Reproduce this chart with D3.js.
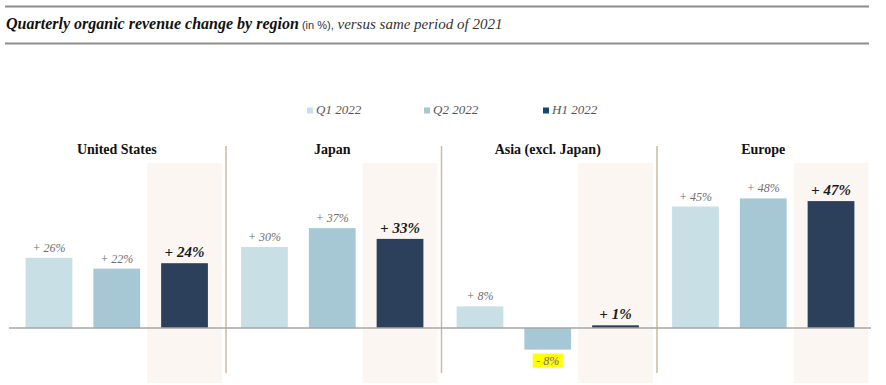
<!DOCTYPE html>
<html>
<head>
<meta charset="utf-8">
<script src="https://cdn.jsdelivr.net/npm/d3@7"></script>
<style>
    body { margin: 0; background: #fff; }
    svg { display: block; }
</style>
</head>
<body>
<div id="chart"></div>
<script>
// Data: regions and quarterly organic change (%)
const REGIONS = ["United States", "Japan", "Asia (excl. Japan)", "Europe"];
const SERIES = ["Q1 2022", "Q2 2022", "H1 2022"];
const Q1_VALUES = [26, 30, 8, 45];
const Q2_VALUES = [22, 37, -8, 48];
const H1_VALUES = [24, 33, 1, 47];

const COLORS = ["#c8dfe5", "#a5c8d4", "#2c3f5b"];
const LEGEND_COLORS = ["#c8dfe5", "#a5c8d4", "#0f4b6c"];

const width = 886, height = 385;
const SERIF = "Liberation Serif";

const svg = d3.select("#chart").append("svg")
    .attr("width", width)
    .attr("height", height);

// Title with rules above and below
svg.append("line").attr("x1", 5).attr("x2", 869).attr("y1", 6.5).attr("y2", 6.5)
    .attr("stroke", "#8c8c8c").attr("stroke-width", 2);
svg.append("line").attr("x1", 5).attr("x2", 869).attr("y1", 43.5).attr("y2", 43.5)
    .attr("stroke", "#8c8c8c").attr("stroke-width", 2);

const title = svg.append("text")
    .attr("x", 6).attr("y", 29)
    .attr("font-family", SERIF)
    .attr("fill", "#111");
title.append("tspan").attr("font-weight", "bold").attr("font-style", "italic")
    .attr("font-size", 16).text("Quarterly organic revenue change by region");
title.append("tspan").attr("font-family", "Liberation Sans")
    .attr("font-size", 11).attr("fill", "#333").text(" (in %),");
title.append("tspan").attr("font-style", "italic").attr("font-size", 15)
    .attr("fill", "#333").text(" versus same period of 2021");

// Scales
const x0 = d3.scaleBand().domain(REGIONS).range([9, 871]);
const x1 = d3.scaleBand().domain(SERIES).range([0, x0.bandwidth()])
    .paddingInner(0.31).paddingOuter(0.245);
const y = d3.scaleLinear().domain([-10, 50]).range([355, 193]);

const rows = REGIONS.map((r, i) => ({
    region: r,
    values: [Q1_VALUES[i], Q2_VALUES[i], H1_VALUES[i]]
}));

// Legend
const legendX = [307, 424, 543];
const legend = svg.append("g");
SERIES.forEach((s, i) => {
    legend.append("rect").attr("x", legendX[i]).attr("y", 107.5)
        .attr("width", 6).attr("height", 6).attr("fill", LEGEND_COLORS[i]);
    legend.append("text").attr("x", legendX[i] + 9).attr("y", 114)
        .attr("font-family", SERIF).attr("font-style", "italic")
        .attr("font-size", 13).attr("fill", "#555").text(s);
});

// Highlight background behind H1 bars
svg.selectAll(".hl").data(rows).enter().append("rect")
    .attr("class", "hl")
    .attr("x", d => x0(d.region) + x1("H1 2022") - 14)
    .attr("width", x1.bandwidth() + 28)
    .attr("y", 163)
    .attr("height", 220)
    .attr("fill", "#fbf6f2");

// Separators between regions
svg.selectAll(".sep").data(REGIONS.slice(1)).enter().append("line")
    .attr("class", "sep")
    .attr("x1", d => x0(d) + 1.5).attr("x2", d => x0(d) + 1.5)
    .attr("y1", 146).attr("y2", 373)
    .attr("stroke", "#cdbb9c").attr("stroke-width", 1.5);

// Region titles
svg.selectAll(".rt").data(REGIONS).enter().append("text")
    .attr("class", "rt")
    .attr("x", d => x0(d) + x0.bandwidth() / 2)
    .attr("y", 154)
    .attr("text-anchor", "middle")
    .attr("font-family", SERIF).attr("font-weight", "bold")
    .attr("font-size", 14).attr("fill", "#111")
    .text(d => d);

// Bars
const groups = svg.selectAll(".grp").data(rows).enter().append("g")
    .attr("class", "grp")
    .attr("transform", d => `translate(${x0(d.region)},0)`);

const cells = groups.selectAll(".cell")
    .data(d => d.values.map((v, i) => ({ series: SERIES[i], idx: i, value: v })))
    .enter();

cells.append("rect")
    .attr("x", d => x1(d.series))
    .attr("width", x1.bandwidth())
    .attr("y", d => y(Math.max(0, d.value)))
    .attr("height", d => Math.abs(y(d.value) - y(0)))
    .attr("fill", d => COLORS[d.idx]);

// Zero line
svg.append("line").attr("x1", 9).attr("x2", 871)
    .attr("y1", y(0)).attr("y2", y(0))
    .attr("stroke", "#a6a6a6").attr("stroke-width", 1.5);

// Value labels
const fmt = v => (v >= 0 ? "+ " : "- ") + Math.abs(v) + "%";

groups.each(function (d) {
    const g = d3.select(this);
    d.values.forEach((v, i) => {
        const cx = x1(SERIES[i]) + x1.bandwidth() / 2;
        const isH1 = i === 2;
        const ly = v >= 0 ? y(v) - 6 : y(v) + 15;
        if (v < 0) {
            g.append("rect").attr("x", cx - 15).attr("y", ly - 11)
                .attr("width", 30).attr("height", 14).attr("fill", "#ffff00");
        }
        g.append("text")
            .attr("x", cx).attr("y", ly)
            .attr("text-anchor", "middle")
            .attr("font-family", SERIF).attr("font-style", "italic")
            .attr("font-weight", isH1 ? "bold" : "normal")
            .attr("font-size", isH1 ? 15 : 12)
            .attr("fill", isH1 ? "#1a1a1a" : "#6f6f6f")
            .text(fmt(v));
    });
});
</script>
</body>
</html>
